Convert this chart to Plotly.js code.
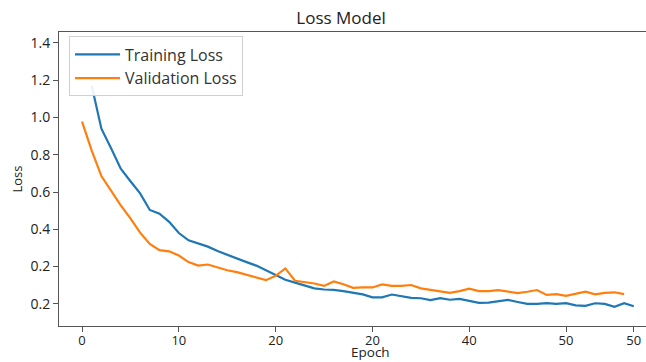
<!DOCTYPE html>
<html>
<head>
<meta charset="utf-8">
<script src="https://cdn.plot.ly/plotly-3.0.1.min.js"></script>
<style>html,body{margin:0;padding:0;background:#fff;}#chart{width:646px;height:362px;}</style>
</head>
<body>
<div id="chart"></div>
<script>
// Epoch positions of each series
var trainEpochs = [1,2,3,4,5,6,7,8,9,10,11,12,13,14,15,16,17,18,19,20,21,22,23,24,25,26,27,28,29,30,31,32,33,34,35,36,37,38,39,40,41,42,43,44,45,46,47,48,49,50,51,52,53,54,55,56,57];
var valEpochs = [0,1,2,3,4,5,6,7,8,9,10,11,12,13,14,15,16,17,18,19,20,21,22,23,24,25,26,27,28,29,30,31,32,33,34,35,36,37,38,39,40,41,42,43,44,45,46,47,48,49,50,51,52,53,54,55,56];

var trainingLoss = [1.17,0.94,0.835,0.725,0.658,0.593,0.504,0.484,0.440,0.380,0.341,0.322,0.307,0.283,0.262,0.243,0.224,0.205,0.180,0.152,0.129,0.114,0.098,0.083,0.077,0.075,0.068,0.060,0.051,0.035,0.035,0.050,0.041,0.032,0.030,0.020,0.031,0.022,0.026,0.016,0.005,0.006,0.012,0.021,0.010,0.000,0.000,0.004,0.000,0.004,-0.008,-0.011,0.003,0.000,-0.016,0.003,-0.013];

var validationLoss = [0.978,0.822,0.686,0.609,0.528,0.459,0.382,0.321,0.288,0.282,0.259,0.224,0.205,0.211,0.196,0.180,0.170,0.155,0.139,0.127,0.150,0.190,0.124,0.117,0.109,0.096,0.120,0.105,0.086,0.088,0.088,0.104,0.096,0.096,0.101,0.083,0.076,0.066,0.059,0.068,0.081,0.068,0.068,0.074,0.066,0.058,0.065,0.074,0.048,0.052,0.043,0.056,0.065,0.051,0.059,0.062,0.052];

// Tick labels as printed on the reference
var xTickVals = [0,10,20,30,40,50,57];
var xTickText = ['0','10','20','20','40','50','50'];
var yTickVals = [0,0.2,0.4,0.6,0.8,1.0,1.2,1.4];
var yTickText = ['0.2','0.2','0.4','0.6','0.8','1.0','1.2','1.4'];

var FONT = '"Open Sans", "Noto Sans", sans-serif';

var traces = [
  {x: trainEpochs, y: trainingLoss, type: 'scatter', mode: 'lines', name: 'Training Loss',
   line: {color: '#1f77b4', width: 2.2}},
  {x: valEpochs, y: validationLoss, type: 'scatter', mode: 'lines', name: 'Validation Loss',
   line: {color: '#ff7f0e', width: 2.2}}
];

var layout = {
  width: 646, height: 362,
  margin: {l: 59, r: 0, t: 32, b: 36, pad: 0},
  paper_bgcolor: '#ffffff', plot_bgcolor: '#ffffff',
  font: {family: FONT, color: '#222222', size: 13},
  title: {text: 'Loss Model', x: 0.528, xanchor: 'center', xref: 'container',
          y: 1 - 18/362, yanchor: 'middle', yref: 'container',
          font: {family: FONT, size: 17, color: '#222222'}},
  showlegend: true,
  legend: {x: 0.017, y: 0.985, xanchor: 'left', yanchor: 'top',
           itemwidth: 45,
           bgcolor: 'rgba(255,255,255,0.9)', bordercolor: '#d0d0d0', borderwidth: 1,
           font: {family: FONT, size: 16, color: '#333333'}},
  xaxis: {range: [-2.38, 58.26], tickmode: 'array', tickvals: xTickVals, ticktext: xTickText,
          showgrid: false, zeroline: false, showline: true, linecolor: '#555555', linewidth: 1,
          mirror: true, ticks: 'outside', ticklen: 5, tickcolor: '#555555',
          ticklabelstandoff: -3,
          tickfont: {family: FONT, size: 13, color: '#222222'}},
  yaxis: {range: [-0.119, 1.459], tickmode: 'array', tickvals: yTickVals, ticktext: yTickText,
          showgrid: false, zeroline: false, showline: true, linecolor: '#555555', linewidth: 1,
          ticks: 'outside', ticklen: 5, tickcolor: '#555555',
          tickfont: {family: FONT, size: 14, color: '#222222'},
          title: {text: 'Loss', standoff: 4, font: {family: FONT, size: 13, color: '#222222'}}},
  annotations: [{text: 'Epoch', xref: 'paper', yref: 'paper', x: (370-59)/587, y: -36/294,
                 xanchor: 'center', yanchor: 'bottom', showarrow: false, borderpad: 0,
                 font: {family: FONT, size: 13.5, color: '#222222'}}]
};

Plotly.newPlot('chart', traces, layout, {displayModeBar: false, staticPlot: true});
</script>
</body>
</html>
